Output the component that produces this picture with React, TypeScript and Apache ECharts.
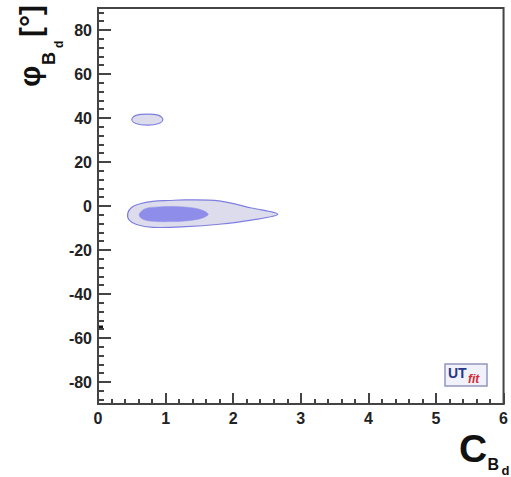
import React, { useEffect, useRef } from "react";
import * as echarts from "echarts";

// Axis ranges and tick positions
const xRange = [0, 6];
const yRange = [-90, 90];
const yMajorTicks = [-80, -60, -40, -20, 0, 20, 40, 60, 80];
const yMinorTicks = [
  -88, -84, -76, -72, -68, -64, -56, -52, -48, -44, -36, -32, -28, -24, -16, -12, -8, -4,
  4, 8, 12, 16, 24, 28, 32, 36, 44, 48, 52, 56, 64, 68, 72, 76, 84, 88,
];

// Probability contours in (C_Bd, phi_Bd) space
const contour95Main: [number, number][] = [
  [0.44, -3.3], [0.5, -0.6], [0.61, 0.9], [0.81, 2.1], [1.05, 2.5], [1.3, 2.8],
  [1.79, 2.3], [2.27, -0.9], [2.66, -3.8], [2.27, -6.4], [1.79, -8.3],
  [1.3, -9.4], [0.81, -9.7], [0.57, -8.4], [0.46, -6.3],
];
const contour95Upper: [number, number][] = [
  [0.5, 39.3], [0.56, 41.2], [0.73, 41.8], [0.9, 41.2], [0.96, 39.3],
  [0.9, 37.5], [0.73, 36.8], [0.56, 37.5],
];
const contour68Main: [number, number][] = [
  [0.61, -3.6], [0.7, -1.2], [0.9, -0.4], [1.2, -0.3], [1.49, -1.4],
  [1.63, -3.8], [1.49, -6.0], [1.1, -7.1], [0.76, -6.8], [0.64, -5.6],
];

const fill95 = "#dcdcec";
const stroke95 = "#7f7fe0";
const fill68 = "#8e8eea";

function contourSeries(points: [number, number][], fill: string, stroke: string | null) {
  return {
    type: "custom",
    coordinateSystem: "cartesian2d",
    xAxisIndex: 0,
    yAxisIndex: 0,
    silent: true,
    data: points,
    renderItem: (params: any, api: any) => {
      if (params.dataIndex !== 0) return null;
      const pts = points.map((p) => api.coord(p));
      return {
        type: "polygon",
        shape: { points: pts, smooth: 0.35 },
        style: {
          fill,
          stroke: stroke || fill,
          lineWidth: stroke ? 1.2 : 0.5,
        },
      };
    },
  };
}

const axisColor = "#444";
const labelFont = {
  color: "#222",
  fontFamily: "Liberation Sans, Arial, sans-serif",
  fontWeight: "bold" as const,
  fontSize: 16,
};

// text placed by its baseline; "middle" sits ~0.35em above the baseline
function titleText(text: string, x: number, baseline: number, size: number, family: string, extra = "bold", fill = "#111") {
  return {
    type: "text",
    x,
    y: baseline - 0.35 * size,
    style: {
      text,
      font: `${extra} ${size}px ${family}`,
      fill,
      textVerticalAlign: "middle",
    },
  };
}

export default function App() {
  const ref = useRef<HTMLDivElement>(null);

  useEffect(() => {
    if (!ref.current) return;
    const chart = echarts.init(ref.current, null, { renderer: "svg" });
    const titleFont = "Liberation Sans, Arial, sans-serif";
    chart.setOption({
      animation: false,
      backgroundColor: "#ffffff",
      grid: {
        left: 98,
        top: 8,
        width: 410,
        height: 396,
        show: true,
        borderColor: axisColor,
        borderWidth: 2,
        backgroundColor: "transparent",
      },
      xAxis: {
        type: "value",
        min: xRange[0],
        max: xRange[1],
        interval: 1,
        axisLine: { show: true, onZero: false, lineStyle: { color: axisColor, width: 2 } },
        axisTick: { show: true, inside: true, length: 11, lineStyle: { color: axisColor, width: 2 } },
        minorTick: { show: true, splitNumber: 5, length: 5, lineStyle: { color: axisColor, width: 2 } },
        splitLine: { show: false },
        axisLabel: { ...labelFont, margin: 6 },
      },
      yAxis: [
        {
          type: "value",
          min: yRange[0],
          max: yRange[1],
          interval: 10,
          axisLine: { show: true, onZero: false, lineStyle: { color: axisColor, width: 2 } },
          axisTick: {
            show: true,
            inside: true,
            length: 13,
            customValues: yMajorTicks,
            lineStyle: { color: axisColor, width: 2 },
          },
          splitLine: { show: false },
          axisLabel: { ...labelFont, margin: 6, customValues: yMajorTicks },
        },
        {
          type: "value",
          min: yRange[0],
          max: yRange[1],
          interval: 10,
          position: "left",
          axisLine: { show: false },
          axisTick: {
            show: true,
            inside: true,
            length: 6,
            customValues: yMinorTicks,
            lineStyle: { color: axisColor, width: 2 },
          },
          splitLine: { show: false },
          axisLabel: { show: false },
        },
      ],
      series: [
        contourSeries(contour95Main, fill95, stroke95),
        contourSeries(contour95Upper, fill95, stroke95),
        contourSeries(contour68Main, fill68, null),
      ],
      graphic: [
        // y-axis title: phi_{B_d} [°], rotated to read upwards
        {
          type: "group",
          x: 0,
          y: 90,
          rotation: Math.PI / 2,
          children: [
            titleText("φ", 3, 40, 30, titleFont),
            titleText("B", 25, 55, 18, titleFont),
            titleText("d", 42, 63, 12, titleFont),
            titleText("[°]", 53, 41, 30, titleFont),
          ],
        },
        // x-axis title: C_{B_d}
        titleText("C", 459, 462, 39, titleFont),
        titleText("B", 487.5, 470, 16, titleFont),
        titleText("d", 501.5, 475, 13, titleFont),
        // stray mark on the y axis
        { type: "rect", shape: { x: 98, y: 325.5, width: 5, height: 3 }, style: { fill: "#111" } },
        // UTfit badge
        {
          type: "group",
          x: 445,
          y: 364,
          children: [
            { type: "rect", shape: { x: 0, y: 0, width: 42, height: 22 }, style: { fill: "#f1f2f9", stroke: "#9296bc", lineWidth: 1.5 } },
            titleText("UT", 3, 14, 14, titleFont, "bold", "#27378a"),
            titleText("fit", 23, 19, 12, titleFont, "italic bold", "#d42a36"),
          ],
        },
      ],
    });
    return () => chart.dispose();
  }, []);

  return (
    <div
      ref={ref}
      style={{ position: "fixed", left: 0, top: 0, width: 511, height: 477 }}
    />
  );
}
